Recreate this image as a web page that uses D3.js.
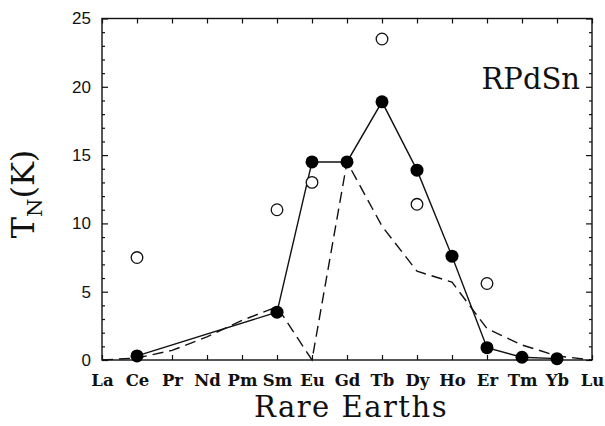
<!DOCTYPE html>
<html>
<head>
<meta charset="utf-8">
<script src="https://cdn.jsdelivr.net/npm/d3@7"></script>
<style>
  html, body { margin: 0; padding: 0; background: #fff; }
  svg { display: block; }
</style>
</head>
<body>
<svg id="chart" width="605" height="426"></svg>
<script>
// Rare-earth series along the x axis
const elements = ["La","Ce","Pr","Nd","Pm","Sm","Eu","Gd","Tb","Dy","Ho","Er","Tm","Yb","Lu"];
const yTickValues = [0, 5, 10, 15, 20, 25];

// Néel temperatures of RPdSn (filled circles, joined by a solid line)
const rpdsnElements = ["Ce","Sm","Eu","Gd","Tb","Dy","Ho","Er","Tm","Yb"];
const rpdsnTN = [0.3, 3.5, 14.5, 14.5, 18.9, 13.9, 7.6, 0.9, 0.2, 0.1];

// Second set of ordering temperatures (open circles)
const openElements = ["Ce","Sm","Eu","Tb","Dy","Er"];
const openTN = [7.5, 11.0, 13.0, 23.5, 11.4, 5.6];

// de Gennes scaling curve (dashed line)
const scalingElements = elements;
const scalingTN = [0, 0.15, 0.7, 1.7, 2.9, 3.9, 0, 14.5, 9.8, 6.5, 5.7, 2.3, 1.1, 0.3, 0];

const svg = d3.select("#chart");
const W = 605, H = 426;
const margin = { left: 102, right: 13, top: 18.5, bottom: 66 };
const innerW = W - margin.left - margin.right;
const innerH = H - margin.top - margin.bottom;

const x = d3.scalePoint().domain(elements).range([0, innerW]);
const y = d3.scaleLinear().domain([0, 25]).range([innerH, 0]);

const g = svg.append("g").attr("transform", `translate(${margin.left},${margin.top})`);

const ink = "#111";

// Frame
g.append("rect")
  .attr("x", 0).attr("y", 0)
  .attr("width", innerW).attr("height", innerH)
  .attr("fill", "none").attr("stroke", ink).attr("stroke-width", 1.4);

const minorY = d3.range(0, 26, 1).filter(v => v % 5 !== 0);

function styleAxis(sel) {
  sel.select(".domain").remove();
  sel.selectAll(".tick line").attr("stroke", ink).attr("stroke-width", 1.2);
}

// Left axis: major ticks with labels, minor ticks every 1 K
g.append("g")
  .call(d3.axisLeft(y).tickValues(yTickValues).tickSize(-6).tickPadding(11).tickFormat(d3.format("d")))
  .call(styleAxis)
  .call(s => s.selectAll("text")
    .attr("font-family", "'Liberation Sans', Arial, sans-serif")
    .attr("font-size", 17).attr("fill", ink));
g.append("g")
  .call(d3.axisLeft(y).tickValues(minorY).tickSize(-3).tickFormat(""))
  .call(styleAxis);

// Right axis: ticks only
g.append("g").attr("transform", `translate(${innerW},0)`)
  .call(d3.axisRight(y).tickValues(yTickValues).tickSize(-6).tickFormat(""))
  .call(styleAxis);
g.append("g").attr("transform", `translate(${innerW},0)`)
  .call(d3.axisRight(y).tickValues(minorY).tickSize(-3).tickFormat(""))
  .call(styleAxis);

// Bottom axis: element names
g.append("g").attr("transform", `translate(0,${innerH})`)
  .call(d3.axisBottom(x).tickSize(-5).tickPadding(14))
  .call(styleAxis)
  .call(s => s.selectAll("text")
    .attr("font-family", "'DejaVu Serif', serif")
    .attr("font-weight", "bold")
    .attr("font-size", 16.5).attr("fill", ink));

// Top axis: ticks only
g.append("g")
  .call(d3.axisTop(x).tickSize(-5).tickFormat(""))
  .call(styleAxis);

// Dashed scaling curve
const line = d3.line().x(d => x(d[0])).y(d => y(d[1]));
g.append("path")
  .datum(scalingElements.map((e, i) => [e, scalingTN[i]]))
  .attr("d", line)
  .attr("fill", "none").attr("stroke", ink)
  .attr("stroke-width", 1.4).attr("stroke-dasharray", "11,6");

// Solid line through the RPdSn points
const rpdsn = rpdsnElements.map((e, i) => [e, rpdsnTN[i]]);
g.append("path")
  .datum(rpdsn)
  .attr("d", line)
  .attr("fill", "none").attr("stroke", ink).attr("stroke-width", 1.4);

// Open circles
g.selectAll("circle.open")
  .data(openElements.map((e, i) => [e, openTN[i]]))
  .join("circle").attr("class", "open")
  .attr("cx", d => x(d[0])).attr("cy", d => y(d[1]))
  .attr("r", 5.8)
  .attr("fill", "#fff").attr("stroke", ink).attr("stroke-width", 1.3);

// Filled circles
g.selectAll("circle.filled")
  .data(rpdsn)
  .join("circle").attr("class", "filled")
  .attr("cx", d => x(d[0])).attr("cy", d => y(d[1]))
  .attr("r", 6.5)
  .attr("fill", "#000");

// Compound label
g.append("text")
  .attr("x", innerW - 12).attr("y", 70.5)
  .attr("text-anchor", "end")
  .attr("font-family", "'DejaVu Serif', serif")
  .attr("font-size", 29)
  .attr("fill", ink)
  .text("RPdSn");

// X axis title
svg.append("text")
  .attr("x", 351).attr("y", 417)
  .attr("text-anchor", "middle")
  .attr("font-family", "'DejaVu Serif', serif")
  .attr("font-size", 29)
  .attr("letter-spacing", 1.5)
  .attr("fill", ink)
  .text("Rare Earths");

// Y axis title: T_N(K)
const yTitle = svg.append("text")
  .attr("transform", "translate(34,194) rotate(-90)")
  .attr("text-anchor", "middle")
  .attr("font-family", "'DejaVu Serif', serif")
  .attr("font-size", 32)
  .attr("fill", ink);
yTitle.append("tspan").text("T");
yTitle.append("tspan").attr("font-size", 21).attr("dy", 8).text("N");
yTitle.append("tspan").attr("dy", -8).text("(K)");
</script>
</body>
</html>
